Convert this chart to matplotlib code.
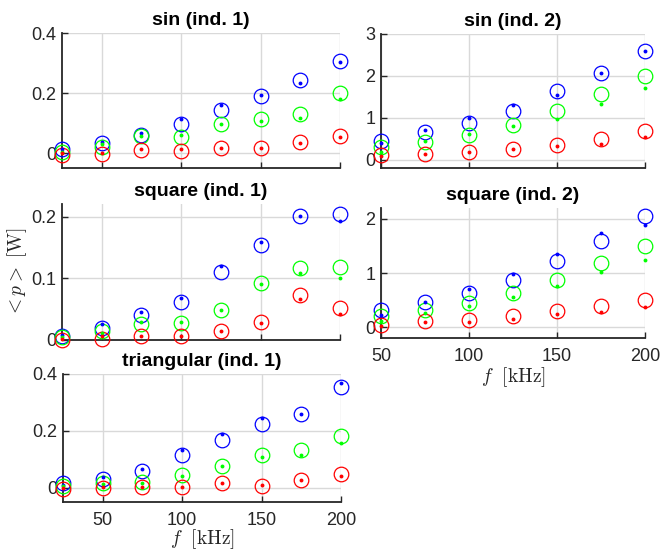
import numpy as np
import matplotlib
matplotlib.use('Agg')
import matplotlib.pyplot as plt

###############################################################################
# Data
f1 = [25, 50, 75, 100, 125, 150, 175, 200]   # kHz, ind. 1
f2 = [50, 75, 100, 125, 150, 175, 200]       # kHz, ind. 2

# sin (ind. 1): circles = model, dots = measured
sin1_b_c = [0.012, 0.034, 0.060, 0.097, 0.143, 0.190, 0.242, 0.308]
sin1_b_d = [0.012, 0.036, 0.068, 0.114, 0.160, 0.195, 0.233, 0.303]
sin1_g_c = [0.003, 0.020, 0.058, 0.052, 0.098, 0.114, 0.130, 0.201]
sin1_g_d = [0.003, 0.029, 0.058, 0.060, 0.098, 0.108, 0.116, 0.179]
sin1_r_c = [-0.005, -0.002, 0.011, 0.008, 0.018, 0.016, 0.036, 0.058]
sin1_r_d = [0.000, 0.000, 0.012, 0.014, 0.018, 0.017, 0.032, 0.053]

# sin (ind. 2)
sin2_b_c = [0.45, 0.67, 0.87, 1.17, 1.63, 2.06, 2.59]
sin2_b_d = [0.40, 0.71, 1.00, 1.30, 1.55, 2.07, 2.59]
sin2_g_c = [0.29, 0.42, 0.60, 0.83, 1.15, 1.56, 2.00]
sin2_g_d = [0.19, 0.44, 0.62, 0.81, 0.98, 1.33, 1.70]
sin2_r_c = [0.10, 0.13, 0.18, 0.26, 0.36, 0.49, 0.68]
sin2_r_d = [0.09, 0.13, 0.18, 0.25, 0.33, 0.38, 0.54]

# square (ind. 1)
sq1_b_c = [0.007, 0.020, 0.040, 0.062, 0.110, 0.154, 0.202, 0.204]
sq1_b_d = [0.008, 0.026, 0.045, 0.068, 0.120, 0.159, 0.202, 0.193]
sq1_g_c = [0.005, 0.015, 0.026, 0.027, 0.048, 0.092, 0.117, 0.118]
sq1_g_d = [0.005, 0.012, 0.029, 0.029, 0.049, 0.091, 0.109, 0.100]
sq1_r_c = [0.000, 0.002, 0.007, 0.007, 0.015, 0.029, 0.073, 0.052]
sq1_r_d = [0.001, 0.006, 0.007, 0.007, 0.014, 0.028, 0.066, 0.043]

# square (ind. 2)
sq2_b_c = [0.32, 0.47, 0.64, 0.88, 1.23, 1.60, 2.06]
sq2_b_d = [0.23, 0.47, 0.71, 0.99, 1.35, 1.74, 1.89]
sq2_g_c = [0.20, 0.31, 0.44, 0.64, 0.88, 1.18, 1.49]
sq2_g_d = [0.12, 0.26, 0.39, 0.55, 0.76, 1.01, 1.24]
sq2_r_c = [0.04, 0.11, 0.13, 0.20, 0.29, 0.39, 0.50]
sq2_r_d = [0.03, 0.09, 0.10, 0.15, 0.25, 0.28, 0.37]

# triangular (ind. 1)
tri1_b_c = [0.018, 0.032, 0.060, 0.114, 0.167, 0.225, 0.260, 0.356]
tri1_b_d = [0.011, 0.039, 0.067, 0.134, 0.189, 0.244, 0.259, 0.369]
tri1_g_c = [0.007, 0.018, 0.021, 0.044, 0.075, 0.116, 0.133, 0.182]
tri1_g_d = [0.007, 0.014, 0.018, 0.043, 0.075, 0.108, 0.116, 0.157]
tri1_r_c = [-0.004, -0.002, 0.001, 0.004, 0.018, 0.008, 0.027, 0.050]
tri1_r_d = [-0.001, 0.001, 0.001, 0.004, 0.017, 0.009, 0.026, 0.040]

###############################################################################
plt.rcParams['font.family'] = ['Liberation Sans', 'DejaVu Sans']
plt.rcParams['mathtext.fontset'] = 'cm'

W, H = 660, 550
fig = plt.figure(figsize=(6.6, 5.5), dpi=100)

def box(x0, y0, x1, y1):
    # pixel box -> figure fraction
    return [x0 / W, 1 - y1 / H, (x1 - x0) / W, (y1 - y0) / H]

tc = (0.15, 0.15, 0.15)

def panel(rect, f, series, title, xlim, ylim, yticks, ylabels, xlab=False):
    ax = fig.add_axes(box(*rect))
    for c, d, col in series:
        ax.plot(f, c, 'o', mfc='none', mec=col, ms=10.5, mew=0.9, clip_on=False, zorder=3)
        ax.plot(f, d, 'o', mfc=col, mec=col, ms=2.8, mew=0, clip_on=False, zorder=4)
    ax.set_xlim(xlim)
    ax.set_ylim(ylim)
    ax.set_xticks([50, 100, 150, 200])
    ax.set_yticks(yticks)
    ax.set_yticklabels(ylabels)
    if not xlab:
        ax.set_xticklabels([])
    ax.grid(True, color=(0.85, 0.85, 0.85), lw=1)
    ax.set_axisbelow(True)
    for s in ['top', 'right']:
        ax.spines[s].set_visible(False)
    for s in ['left', 'bottom']:
        ax.spines[s].set_linewidth(1.3)
        ax.spines[s].set_color(tc)
    ax.tick_params(direction='in', length=4, width=1, colors=tc, labelsize=13, pad=4)
    ax.tick_params(axis='x', pad=7)
    ax.set_title(title, fontsize=14, fontweight='bold', pad=6)
    return ax

ax1 = panel((62, 33, 340, 168), f1,
            [(sin1_b_c, sin1_b_d, 'b'), (sin1_g_c, sin1_g_d, (0, 1, 0)), (sin1_r_c, sin1_r_d, 'r')],
            'sin (ind. 1)', [25, 200], [-0.05, 0.4], [0, 0.2, 0.4], ['0', '0.2', '0.4'])
ax2 = panel((381, 34, 645, 168), f2,
            [(sin2_b_c, sin2_b_d, 'b'), (sin2_g_c, sin2_g_d, (0, 1, 0)), (sin2_r_c, sin2_r_d, 'r')],
            'sin (ind. 2)', [50, 200], [-0.2, 3], [0, 1, 2, 3], ['0', '1', '2', '3'])
ax3 = panel((62, 204, 340, 340), f1,
            [(sq1_b_c, sq1_b_d, 'b'), (sq1_g_c, sq1_g_d, (0, 1, 0)), (sq1_r_c, sq1_r_d, 'r')],
            'square (ind. 1)', [25, 200], [0, 0.221], [0, 0.1, 0.2], ['0', '0.1', '0.2'])
ax4 = panel((381, 208, 645, 338), f2,
            [(sq2_b_c, sq2_b_d, 'b'), (sq2_g_c, sq2_g_d, (0, 1, 0)), (sq2_r_c, sq2_r_d, 'r')],
            'square (ind. 2)', [50, 200], [-0.2, 2.2], [0, 1, 2], ['0', '1', '2'], xlab=True)
ax5 = panel((63, 374, 341, 502), f1,
            [(tri1_b_c, tri1_b_d, 'b'), (tri1_g_c, tri1_g_d, (0, 1, 0)), (tri1_r_c, tri1_r_d, 'r')],
            'triangular (ind. 1)', [25, 200], [-0.05, 0.4], [0, 0.2, 0.4], ['0', '0.2', '0.4'], xlab=True)

ax3.set_ylabel(r'$<p>\ [\mathrm{W}]$', fontsize=14, color=tc, labelpad=2)
ax4.set_xlabel(r'$f\ \ [\mathrm{kHz}]$', fontsize=14, color=tc, labelpad=0)
ax5.set_xlabel(r'$f\ \ [\mathrm{kHz}]$', fontsize=14, color=tc, labelpad=-1)

fig.savefig('out.png', dpi=100)
print('Completed')
